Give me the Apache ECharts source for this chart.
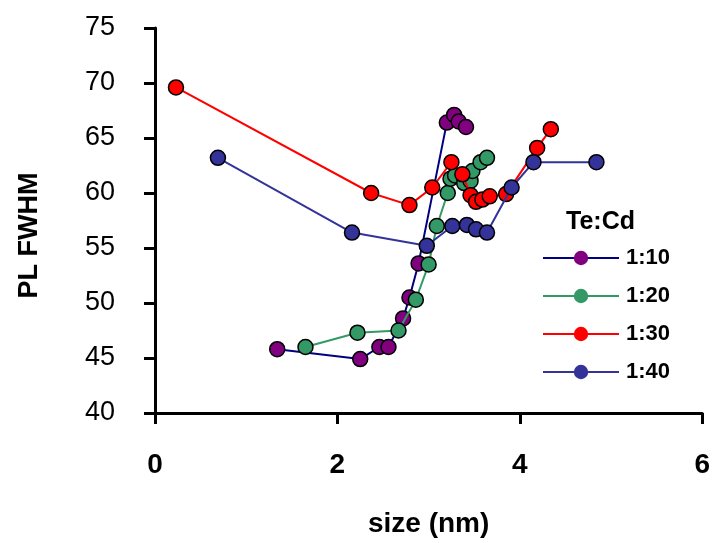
<!DOCTYPE html>
<html>
<head>
<meta charset="utf-8">
<script src="https://cdn.jsdelivr.net/npm/echarts@6/dist/echarts.min.js"></script>
<style>
html,body{margin:0;padding:0;background:#fff;}
#c{width:713px;height:543px;}
</style>
</head>
<body>
<div id="c"></div>
<script>
// Data
var xTicks = [0, 2, 4, 6];
var yTicks = [40, 45, 50, 55, 60, 65, 70, 75];
var seriesNames = ['1:10', '1:20', '1:30', '1:40'];

var size_1_10 = [1.34, 2.25, 2.46, 2.56, 2.72, 2.79, 2.89, 3.20, 3.28, 3.33, 3.41];
var fwhm_1_10 = [45.8, 44.9, 46.0, 46.0, 48.6, 50.5, 53.6, 66.4, 67.1, 66.5, 66.0];

var size_1_20 = [1.65, 2.22, 2.67, 2.86, 3.00, 3.09, 3.21, 3.24, 3.29, 3.39, 3.46, 3.48, 3.57, 3.64];
var fwhm_1_20 = [46.0, 47.3, 47.5, 50.3, 53.5, 57.0, 60.0, 61.3, 61.6, 60.9, 61.1, 62.0, 62.8, 63.2];

var size_1_30 = [0.23, 2.37, 2.79, 3.04, 3.25, 3.37, 3.46, 3.52, 3.59, 3.67, 3.85, 4.19, 4.34];
var fwhm_1_30 = [69.6, 60.0, 58.9, 60.5, 62.8, 61.7, 59.8, 59.2, 59.4, 59.7, 59.9, 64.1, 65.8];

var size_1_40 = [0.69, 2.16, 2.98, 3.26, 3.42, 3.52, 3.64, 3.91, 4.15, 4.84];
var fwhm_1_40 = [63.2, 56.4, 55.2, 57.0, 57.1, 56.7, 56.4, 60.5, 62.8, 62.8];

function pairs(xs, ys) { return xs.map(function (x, i) { return [x, ys[i]]; }); }

var lineColors = ['#000080', '#339966', '#FF0000', '#333399'];
var markColors = ['#800080', '#339966', '#FF0000', '#333399'];
var allData = [pairs(size_1_10, fwhm_1_10), pairs(size_1_20, fwhm_1_20), pairs(size_1_30, fwhm_1_30), pairs(size_1_40, fwhm_1_40)];

var FONT = 'Liberation Sans, Arial, sans-serif';

var chart = echarts.init(document.getElementById('c'), null, {renderer: 'canvas'});
var series = seriesNames.map(function (n, i) {
  return {
    name: n,
    type: 'line',
    data: allData[i],
    symbol: 'circle',
    symbolSize: 15,
    lineStyle: {color: lineColors[i], width: 2},
    itemStyle: {color: markColors[i], borderColor: '#000', borderWidth: 1.5},
    z: 2 + i,
    animation: false
  };
});

chart.setOption({
  animation: false,
  backgroundColor: '#fff',
  grid: {left: 155, right: 9, top: 28, bottom: 127, containLabel: false},
  title: {
    text: 'Te:Cd', left: 561, top: 205,
    textStyle: {fontFamily: FONT, fontSize: 25, fontWeight: 'bold', color: '#000'}
  },
  legend: {
    orient: 'vertical', left: 537, top: 242,
    itemWidth: 76, itemHeight: 18, itemGap: 16,
    data: seriesNames,
    textStyle: {fontFamily: FONT, fontSize: 22, fontWeight: 'bold', color: '#000', padding: [0, 0, 0, 2]},
    itemStyle: {borderWidth: 0}
  },
  xAxis: {
    type: 'value', min: 0, max: 6, interval: 2,
    name: 'size (nm)', nameLocation: 'middle', nameGap: 97,
    nameTextStyle: {fontFamily: FONT, fontSize: 28, fontWeight: 'bold', color: '#000'},
    axisLine: {lineStyle: {color: '#000', width: 3}},
    axisTick: {show: true, length: 11, lineStyle: {color: '#000', width: 3}},
    axisLabel: {fontFamily: FONT, fontSize: 28, fontWeight: 'bold', color: '#000', margin: 38},
    splitLine: {show: false}
  },
  yAxis: {
    type: 'value', min: 40, max: 75, interval: 5,
    name: 'PL FWHM', nameLocation: 'middle', nameGap: 112,
    nameTextStyle: {fontFamily: FONT, fontSize: 27, fontWeight: 'bold', color: '#000', padding: [0, 30, 0, 0]},
    axisLine: {lineStyle: {color: '#000', width: 3}},
    axisTick: {show: true, length: 11, lineStyle: {color: '#000', width: 3}},
    axisLabel: {fontFamily: FONT, fontSize: 27, color: '#000', margin: 40},
    splitLine: {show: false}
  },
  series: series
});
</script>
</body>
</html>
